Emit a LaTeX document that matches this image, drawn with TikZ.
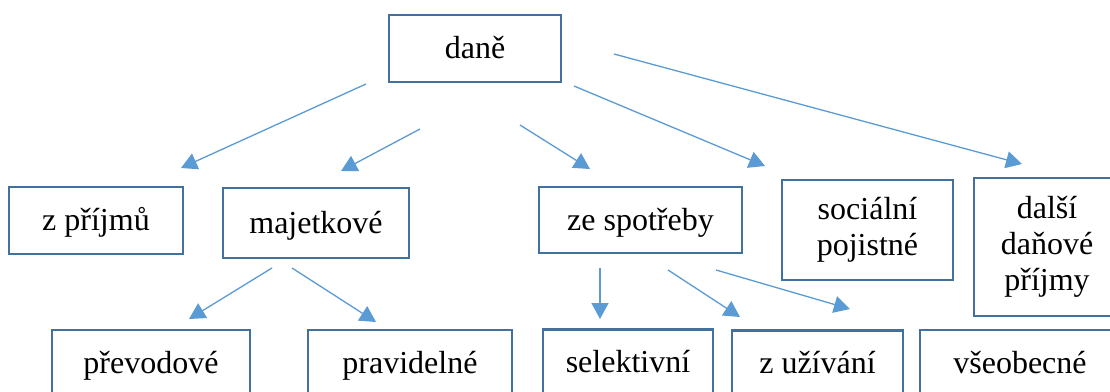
\documentclass[tikz,border=0pt]{standalone}
\usepackage{fontspec}
\setmainfont{Liberation Serif}
\usetikzlibrary{arrows.meta}
\definecolor{boxblue}{HTML}{41719C}
\definecolor{lineblue}{HTML}{5B9BD5}
\tikzset{
  taxbox/.style={draw=boxblue, line width=2.6pt, fill=white, inner sep=0pt,
    align=center, font=\fontsize{32}{36}\selectfont},
  oneline/.style={text height=27pt, text depth=7pt},
  conn/.style={draw=lineblue, line width=1.3pt, -{Triangle[length=16pt,width=17pt]}}
}
\begin{document}
\begin{tikzpicture}[x=1pt,y=-1pt]
\useasboundingbox (0,0) rectangle (1110,391);
\fill[white] (0,0) rectangle (1110,391);
\clip (0,0) rectangle (1110,391);
% boxes
\node[taxbox, oneline, minimum width=172pt, minimum height=67pt] (dane) at (475,48.5) {daně};
\node[taxbox, oneline, minimum width=174pt, minimum height=67pt] (zprijmu) at (96,220.5) {z příjmů};
\node[taxbox, oneline, minimum width=186pt, minimum height=70pt] (majetkove) at (316,223) {majetkové};
\node[taxbox, oneline, minimum width=203pt, minimum height=66pt] (spotreby) at (640.5,220) {ze spotřeby};
\node[taxbox, minimum width=171pt, minimum height=100pt] (socialni) at (867.5,230) {\raisebox{-3pt}{sociální}\\\raisebox{-3pt}{pojistné}};
\node[taxbox, minimum width=146pt, minimum height=138pt] (dalsi) at (1047,247) {další\\daňové\\příjmy};
\node[taxbox, oneline, minimum width=198pt, minimum height=66pt] (prevodove) at (151,363) {převodové};
\node[taxbox, oneline, minimum width=204pt, minimum height=66pt] (pravidelne) at (410,363) {pravidelné};
\node[taxbox, oneline, minimum width=170pt, minimum height=66pt] (selektivni) at (628,362.5) {selektivní};
\node[taxbox, oneline, minimum width=171pt, minimum height=66pt] (zuzivani) at (817.5,363.5) {z užívání};
\node[taxbox, oneline, minimum width=200pt, minimum height=66pt] (vseobecne) at (1020,363) {všeobecné};
% connector end points
\coordinate (a1s) at (366,84);  \coordinate (a1e) at (181,168);
\coordinate (a2s) at (420,129); \coordinate (a2e) at (341,171);
\coordinate (a3s) at (520,125); \coordinate (a3e) at (590,169);
\coordinate (a4s) at (574,86);  \coordinate (a4e) at (765,166);
\coordinate (a5s) at (614,54);  \coordinate (a5e) at (1022,164);
\coordinate (a6s) at (272,268); \coordinate (a6e) at (189,319);
\coordinate (a7s) at (292,268); \coordinate (a7e) at (376,322);
\coordinate (a8s) at (600,268); \coordinate (a8e) at (600,319);
\coordinate (a9s) at (668,270); \coordinate (a9e) at (740,317);
\coordinate (a10s) at (716,270); \coordinate (a10e) at (850,309);
% connectors
\draw[conn] (a1s) -- (a1e);
\draw[conn] (a2s) -- (a2e);
\draw[conn] (a3s) -- (a3e);
\draw[conn] (a4s) -- (a4e);
\draw[conn] (a5s) -- (a5e);
\draw[conn] (a6s) -- (a6e);
\draw[conn] (a7s) -- (a7e);
\draw[conn] (a8s) -- (a8e);
\draw[conn] (a9s) -- (a9e);
\draw[conn] (a10s) -- (a10e);
\end{tikzpicture}
\end{document}
